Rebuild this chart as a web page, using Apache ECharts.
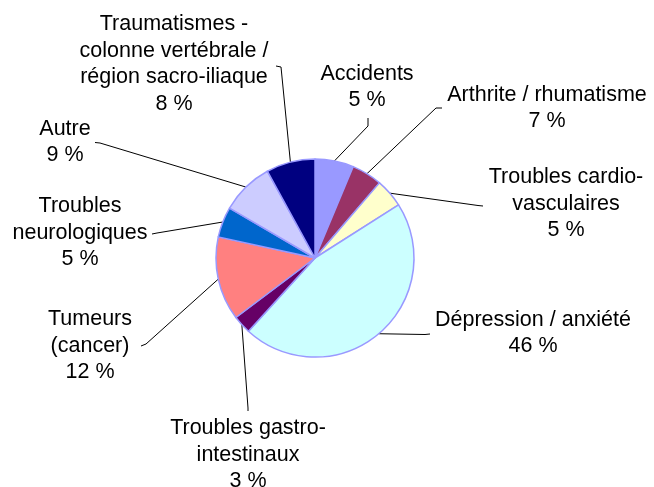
<!DOCTYPE html>
<html>
<head>
<meta charset="utf-8">
<script src="https://cdn.jsdelivr.net/npm/echarts@6/dist/echarts.min.js"></script>
<style>
	html, body { margin: 0; padding: 0; background: #fff; }
	#chart { width: 654px; height: 487px; }
</style>
</head>
<body>
<div id="chart"></div>
<script>
// categories, in clockwise order from 12 o'clock
const categories = [
	'Accidents',
	'Arthrite / rhumatisme',
	'Troubles cardio-\nvasculaires',
	'Dépression / anxiété',
	'Troubles gastro-\nintestinaux',
	'Tumeurs\n(cancer)',
	'Troubles\nneurologiques',
	'Autre',
	'Traumatismes -\ncolonne vertébrale /\nrégion sacro-iliaque',
];
// slice sizes
const shares = [6.3, 5.0, 4.7, 45.8, 3.0, 13.7, 5.0, 8.6, 8.0];
// percentage texts printed on the chart
const pctLabels = ['5 %', '7 %', '5 %', '46 %', '3 %', '12 %', '5 %', '9 %', '8 %'];

const colors = ['#9999FF', '#993366', '#FFFFCC', '#CCFFFF', '#660066',
	'#FF8080', '#0066CC', '#CCCCFF', '#000080'];

// label block centres and leader line bends/ends (layout only)
const labelPos = [
	[367, 87], [547, 108], [566, 204], [533, 333], [248, 455],
	[90, 346], [80, 233], [65, 142], [174, 64],
];
const leaderBend = [
	[368, 126], [436, 108], [478, 205.5], [425, 334.5], [248, 408],
	[146, 344], [157, 233], [100, 143], [281, 67],
];
const leaderEnd = [
	[368, 118], [442, 108], [483, 206], [430, 334], [248, 411],
	[141, 346], [152, 234], [95, 142.5], [276, 66],
];

const pieCenter = [315, 258];
const pieRadius = 99;

let myChart = echarts.init(document.getElementById('chart'));

let option = {
	animation: false,
	backgroundColor: '#fff',
	series: [
		{
			type: 'pie',
			center: pieCenter,
			radius: pieRadius,
			startAngle: 90,
			clockwise: true,
			avoidLabelOverlap: false,
			data: categories.map((c, i) => ({
				name: c,
				value: shares[i],
				itemStyle: { color: colors[i] },
			})),
			itemStyle: { borderColor: '#9999FF', borderWidth: 1.5 },
			emphasis: { disabled: true },
			label: {
				show: true,
				position: 'outside',
				formatter: (p) => p.name + '\n' + pctLabels[p.dataIndex],
				color: '#000',
				fontFamily: 'Liberation Sans, Arial, sans-serif',
				fontSize: 21.5,
				lineHeight: 26.5,
				align: 'center',
			},
			labelLine: {
				show: true,
				length: 10,
				length2: 10,
				lineStyle: { color: '#000', width: 1 },
			},
			labelLayout: (params) => {
				const i = params.dataIndex;
				let start = params.labelLinePoints && params.labelLinePoints[0];
				if (!start) {
					let total = shares.reduce((a, b) => a + b, 0);
					let before = shares.slice(0, i).reduce((a, b) => a + b, 0);
					let ang = ((before + shares[i] / 2) / total) * 2 * Math.PI;
					start = [
						pieCenter[0] + pieRadius * Math.sin(ang),
						pieCenter[1] - pieRadius * Math.cos(ang),
					];
				}
				return {
					x: labelPos[i][0],
					y: labelPos[i][1],
					align: 'center',
					verticalAlign: 'middle',
					labelLinePoints: [start, leaderBend[i], leaderEnd[i]],
				};
			},
		},
	],
};

myChart.setOption(option, true);
window.addEventListener('resize', () => {
	myChart.resize();
});
</script>
</body>
</html>
